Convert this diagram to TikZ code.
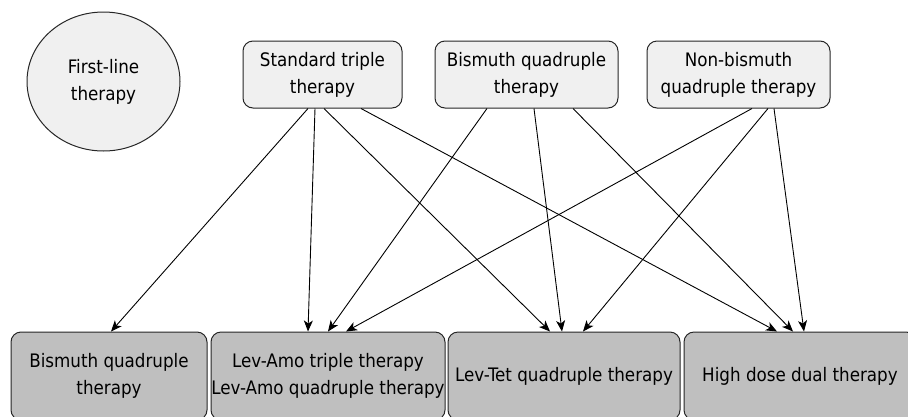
\documentclass[tikz,border=0pt]{standalone}
\usepackage{fontspec}
\setmainfont{DejaVu Sans Condensed}
\usetikzlibrary{shapes.geometric,arrows.meta}

\begin{document}
\begin{tikzpicture}[x=1pt, y=-1pt,
  txt/.style={font=\fontsize{18.6}{27}\selectfont, align=center, text=black},
  start/.style={txt, draw=black!85, line width=1pt, fill=black!6, ellipse, minimum width=153, minimum height=139, inner sep=0pt},
  line2/.style={txt, draw=black!85, line width=1pt, fill=black!6, rounded corners=10pt, minimum height=67, inner sep=0pt},
  line3/.style={txt, draw=black!85, line width=1pt, fill=black!25, rounded corners=10pt, minimum height=88, inner sep=0pt},
  arr/.style={draw=black, line width=0.9pt, -{Stealth[length=11pt,width=9pt,inset=3pt]}}]
  \useasboundingbox (0,0) rectangle (908,416);
  \clip (0,0) rectangle (908,416);
  % first line
  \node[start] (fl) at (103.5,81.5) {First-line\\therapy};
  % second line
  \node[line2, minimum width=159] (std) at (322.5,74.5) {Standard triple\\therapy};
  \node[line2, minimum width=183] (bq) at (526.5,74.5) {Bismuth quadruple\\therapy};
  \node[line2, minimum width=183] (nbq) at (738.5,74.5) {Non-bismuth\\quadruple therapy};
  % rescue
  \node[line3, minimum width=196] (bqd) at (109,376) {Bismuth quadruple\\therapy};
  \node[line3, minimum width=234] (lam) at (328,376) {Lev-Amo triple therapy\\Lev-Amo quadruple therapy};
  \node[line3, minimum width=232] (ltq) at (564,376) {Lev-Tet quadruple therapy};
  \node[line3, minimum width=232] (hdd) at (800,376) {High dose dual therapy};
  % from standard triple
  \draw[arr] ([xshift=-14.5]std.south) -- ([xshift=2]bqd.north);
  \draw[arr] ([xshift=-7.5]std.south) -- ([xshift=-20]lam.north);
  \draw[arr] ([xshift=1.5]std.south) -- ([xshift=-14]ltq.north);
  \draw[arr] ([xshift=38.5]std.south) -- ([xshift=-23]hdd.north);
  % from bismuth quadruple
  \draw[arr] ([xshift=-39.5]bq.south) -- ([xshift=0]lam.north);
  \draw[arr] ([xshift=7.5]bq.south) -- ([xshift=-2]ltq.north);
  \draw[arr] ([xshift=46.5]bq.south) -- ([xshift=-7]hdd.north);
  % from non-bismuth quadruple
  \draw[arr] ([xshift=13.5]nbq.south) -- ([xshift=18]lam.north);
  \draw[arr] ([xshift=29.5]nbq.south) -- ([xshift=19]ltq.north);
  \draw[arr] ([xshift=35.5]nbq.south) -- ([xshift=4]hdd.north);
\end{tikzpicture}
\end{document}
